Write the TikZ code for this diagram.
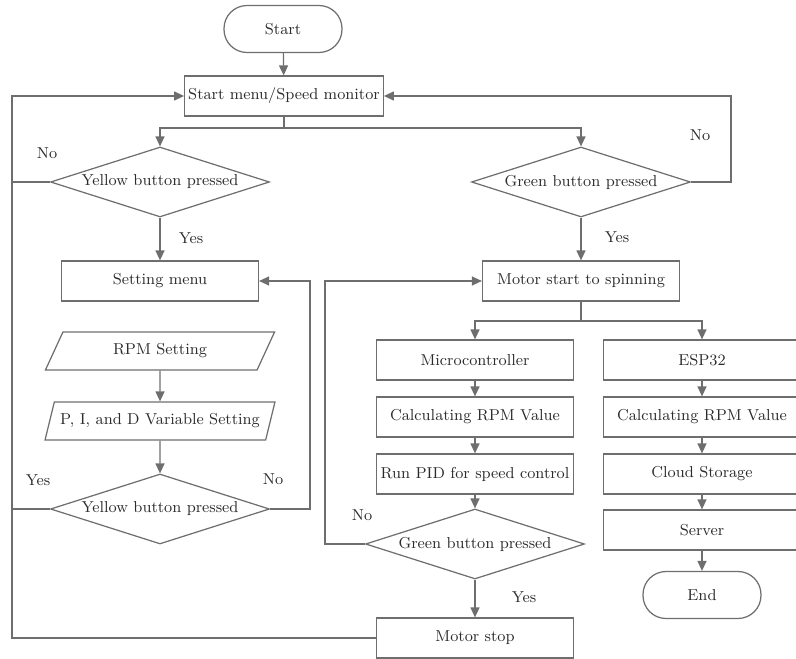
\documentclass[tikz,border=0pt]{standalone}
\usetikzlibrary{arrows.meta,shapes.geometric,positioning}
\definecolor{flowgray}{HTML}{6E6E6E}
\definecolor{txtgray}{HTML}{2B2B2B}
\tikzset{every node/.style={font=\small},
  proc/.style={draw=flowgray,line width=0.7pt,minimum width=3.94cm,minimum height=0.8cm,inner sep=2pt,text=txtgray},
  dec/.style={draw=flowgray,line width=0.7pt,diamond,aspect=3,minimum width=4.38cm,minimum height=1.4cm,inner sep=0pt,text=txtgray},
  io/.style={draw=flowgray,line width=0.7pt,trapezium,trapezium left angle=67,trapezium right angle=113,trapezium stretches=true,
    minimum width=4.6cm,minimum height=0.76cm,inner sep=2pt,text=txtgray},
  term/.style={draw=flowgray,line width=0.7pt,rounded corners=4.6mm,minimum width=2.36cm,minimum height=0.94cm,text=txtgray},
  wire/.style={draw=flowgray,line width=0.7pt},
  arr/.style={wire,-{Triangle[length=2mm,width=1.8mm]}},
  lbl/.style={text=txtgray}}

\begin{document}
\begin{tikzpicture}[x=0.02cm,y=-0.02cm]
\useasboundingbox (0,0) rectangle (796,659);
% main column
\node[term] (start) at (283,29) {Start};
\node[proc] (menu) at (284,96) {Start menu/Speed monitor};
\node[dec] (yd1) at (160,182) {Yellow button pressed};
\node[dec] (gd1) at (581,182) {Green button pressed};
\node[proc] (set) at (160,281) {Setting menu};
\node[proc] (mst) at (581,281) {Motor start to spinning};
% setting branch
\node[io] (rpm) at (160,351) {RPM Setting};
\node[io] (pidset) at (160,421) {P, I, and D Variable Setting};
\node[dec] (yd2) at (160,509) {Yellow button pressed};
% motor branch
\node[proc] (mcu) at (475,360) {Microcontroller};
\node[proc] (calc1) at (475,417) {Calculating RPM Value};
\node[proc] (run) at (475,474) {Run PID for speed control};
\node[dec] (gd2) at (475,544) {Green button pressed};
\node[proc] (stop) at (475,638) {Motor stop};
% esp branch
\node[proc] (esp) at (702,360) {ESP32};
\node[proc] (calc2) at (702,417) {Calculating RPM Value};
\node[proc] (cloud) at (702,474) {Cloud Storage};
\node[proc] (srv) at (702,530) {Server};
\node[term] (end) at (702,595) {End};

\coordinate (s1) at (284,128);
\coordinate (s2) at (581,321);
\coordinate (lft) at (12,400);
\coordinate (rgt) at (731,140);
\coordinate (lp1) at (310,400);
\coordinate (lp2) at (325,400);

\draw[arr] (start) -- (menu);
\draw[wire] (menu.south) -- (s1);
\draw[arr] (s1) -| (yd1.north);
\draw[arr] (s1) -| (gd1.north);
\draw[arr] (stop.west) -| (lft) |- (menu.west);
\draw[wire] (yd1.west) -- (yd1.west -| lft);
\draw[wire] (yd2.west) -- (yd2.west -| lft);
\draw[arr] (gd1.east) -| (rgt) |- (menu.east);
\draw[arr] (yd1.south) -- (set.north);
\draw[arr] (gd1.south) -- (mst.north);
\draw[arr] (rpm) -- (pidset);
\draw[arr] (pidset) -- (yd2.north);
\draw[arr] (yd2.east) -| (lp1) |- (set.east);
\draw[wire] (mst.south) -- (s2);
\draw[arr] (s2) -| (mcu.north);
\draw[arr] (s2) -| (esp.north);
\draw[arr] (mcu) -- (calc1);
\draw[arr] (calc1) -- (run);
\draw[arr] (run) -- (gd2.north);
\draw[arr] (gd2.south) -- (stop.north);
\draw[arr] (gd2.west) -| (lp2) |- (mst.west);
\draw[arr] (esp) -- (calc2);
\draw[arr] (calc2) -- (cloud);
\draw[arr] (cloud) -- (srv);
\draw[arr] (srv) -- (end);

\node[lbl] (n1) at (47,153) {No};
\node[lbl] (y1) at (191,238) {Yes};
\node[lbl] (n2) at (700,135) {No};
\node[lbl] (y2) at (617,237) {Yes};
\node[lbl] (y3) at (38,480) {Yes};
\node[lbl] (n3) at (273,479) {No};
\node[lbl] (n4) at (362,515) {No};
\node[lbl] (y4) at (524,597) {Yes};
\end{tikzpicture}
\end{document}
